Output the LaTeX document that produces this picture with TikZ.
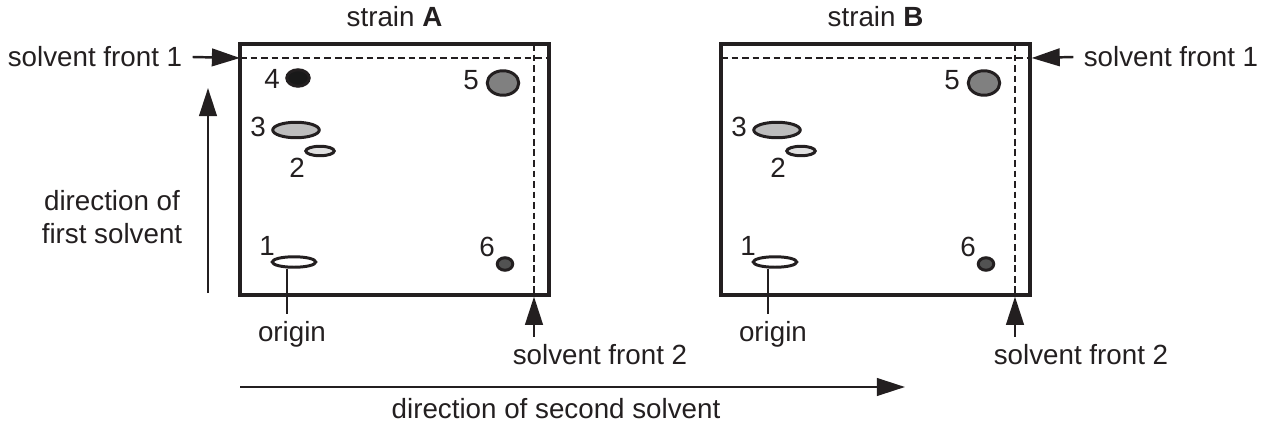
\documentclass[tikz,border=0pt]{standalone}
\usepackage{fontspec}
\setmainfont{Liberation Sans}
\usetikzlibrary{arrows.meta, shapes.geometric, positioning}

\definecolor{ink}{HTML}{231F20}

\tikzset{
  plate/.style={draw, line width=1.9pt, inner sep=0pt, minimum width=6.18cm, minimum height=5.02cm},
  front/.style={line width=1.5pt, dash pattern=on 3.8pt off 2.2pt},
  spot/.style={ellipse, draw, line width=1.7pt, inner sep=0pt},
  lbl/.style={inner xsep=0.2cm, inner ysep=0pt},
  dirarrow/.style={-{Triangle[length=16pt, width=10pt]}, line width=1.4pt},
  stem/.style={line width=0.8pt},
}

\begin{document}
\begin{tikzpicture}[x=0.02cm, y=-0.02cm, color=ink, font=\fontsize{15.8}{19}\selectfont]
\useasboundingbox (0,0) rectangle (1269,423);

% the two plates
\foreach \s/\dx in {A/0, B/481}{
  \node[plate] (plate\s) at ({394.5+\dx},169.5) {};
  \node[lbl, above=0.3cm of plate\s, inner sep=0pt] (str\s) {strain \textbf{\s}};
  \coordinate (f1\s) at ({240+\dx},58);
  \coordinate (f2\s) at ({534+\dx},44);
  \draw[front] (f1\s) -- (f1\s -| plate\s.east);
  \draw[front] (f2\s) -- (f2\s |- plate\s.south);
  % spots
  \node[spot, fill=black!50, minimum width=0.63cm, minimum height=0.49cm] (s5\s) at ({503+\dx},83) {};
  \node[spot, fill=black!26, minimum width=0.93cm, minimum height=0.31cm] (s3\s) at ({296+\dx},130) {};
  \node[spot, fill=black!12, minimum width=0.57cm, minimum height=0.19cm] (s2\s) at ({320+\dx},151) {};
  \node[spot, fill=white, minimum width=0.87cm, minimum height=0.21cm] (s1\s) at ({294+\dx},262) {};
  \node[spot, fill=black!68, minimum width=0.31cm, minimum height=0.25cm] (s6\s) at ({505+\dx},264) {};
  \node[lbl] (n5\s) at ({471+\dx},80) {5};
  \node[lbl] (n3\s) at ({258+\dx},127) {3};
  \node[lbl] (n2\s) at ({297+\dx},168) {2};
  \node[lbl] (n1\s) at ({267+\dx},246) {1};
  \node[lbl] (n6\s) at ({487+\dx},247) {6};
  % origin and second front
  \node[lbl, anchor=base] (org\s) at ({292+\dx},341) {origin};
  \draw[stem, shorten >=0.14cm] ([xshift=-0.14cm]s1\s.south) -- ([xshift=-0.14cm]s1\s.south |- org\s.north);
  \node[lbl, anchor=base] (sf2\s) at ({600+\dx},364) {solvent front 2};
  \draw[dirarrow, shorten <=0.14cm] (f2\s |- sf2\s.north) -- (f2\s |- plate\s.south);
}

% spot 4 only in strain A
\node[spot, fill=black!90, minimum width=0.45cm, minimum height=0.33cm] (s4A) at (298,78) {};
\node[lbl] (n4A) at (272,79) {4};

% first solvent fronts
\node[lbl] (sf1A) at (95,57) {solvent front 1};
\draw[dirarrow] (sf1A.east) -- (f1A);
\node[lbl] (sf1B) at (1171,57) {solvent front 1};
\draw[dirarrow] (sf1B.west) -- (f1B -| plateB.east);

% directions
\node[lbl, align=center] (dir1) at (112,217) {direction of\\first solvent};
\coordinate (d1bot) at (208,293);
\coordinate (d1top) at (208,88);
\draw[dirarrow] (d1bot) -- (d1top);
\coordinate (d2start) at (240,387);
\coordinate (d2end) at (905,387);
\draw[dirarrow] (d2start) -- (d2end);
\node[lbl, anchor=base] (dir2) at (556,418) {direction of second solvent};

\end{tikzpicture}
\end{document}
